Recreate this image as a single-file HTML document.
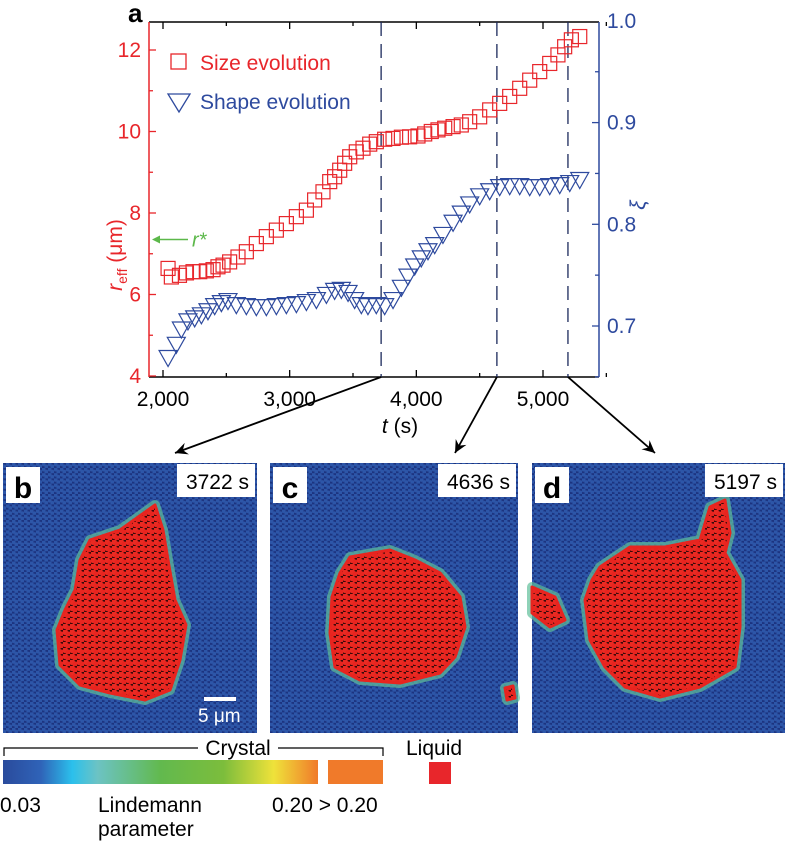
<!DOCTYPE html>
<html><head><meta charset="utf-8"><style>
body{margin:0;background:#fff;}
svg{display:block;font-family:"Liberation Sans",sans-serif;}
</style></head><body>
<svg id="fig" width="788" height="842" viewBox="0 0 788 842">
<defs>
<pattern id="hex" width="6" height="5.2" patternUnits="userSpaceOnUse">
<rect width="6" height="5.2" fill="#1c3480"/>
<circle cx="1.5" cy="1.3" r="2.1" fill="#2d56a8"/>
<circle cx="4.5" cy="3.9" r="2.1" fill="#2d56a8"/>
</pattern>
<pattern id="liq" width="7" height="6" patternUnits="userSpaceOnUse">
<rect width="7" height="6" fill="#3a0a0a"/>
<circle cx="2" cy="2" r="3" fill="#ea2a22"/>
<circle cx="5.5" cy="4.5" r="3" fill="#e8241f"/>
</pattern>
<linearGradient id="cbar" x1="0" x2="1">
<stop offset="0" stop-color="#2a4b9c"/><stop offset="0.12" stop-color="#2f63b8"/>
<stop offset="0.22" stop-color="#2bc0ec"/><stop offset="0.3" stop-color="#6cc3c4"/>
<stop offset="0.5" stop-color="#62b94e"/><stop offset="0.7" stop-color="#7cbd3c"/>
<stop offset="0.86" stop-color="#efe23a"/><stop offset="1" stop-color="#f07a2a"/>
</linearGradient>
</defs>
<g id="chart"></g>
<g id="panels"></g>
<g>
<polyline points="4,756 4,748 383,748 383,756" fill="none" stroke="#000" stroke-width="1.2"/>
<rect x="198" y="736" width="80" height="18" fill="#fff"/>
<text x="238" y="755" font-size="21" text-anchor="middle">Crystal</text>
<rect x="3" y="760" width="315" height="24" fill="url(#cbar)"/>
<rect x="328" y="760" width="55" height="24" fill="#f07a2a"/>
<rect x="429" y="762" width="22" height="22" fill="#e8262b"/>
<text x="406" y="755" font-size="21">Liquid</text>
<text x="0" y="812" font-size="21">0.03</text>
<text x="98" y="812" font-size="21">Lindemann</text>
<text x="98" y="836" font-size="21">parameter</text>
<text x="272" y="812" font-size="21">0.20 &gt; 0.20</text>
</g>
</svg>
<script>
const NS="http://www.w3.org/2000/svg";
const sizeT=[2040,2066,2130,2185,2237,2290,2342,2395,2434,2474,2526,2592,2658,2737,2816,2895,2974,3053,3132,3197,3263,3316,3355,3395,3434,3474,3526,3579,3632,3684,3750,3816,3882,3947,4013,4066,4118,4171,4224,4290,4355,4421,4500,4579,4658,4737,4816,4895,4974,5053,5118,5171,5224,5290];
const sizeR=[6.64,6.43,6.47,6.53,6.56,6.56,6.58,6.61,6.68,6.72,6.80,6.92,7.05,7.25,7.42,7.58,7.74,7.91,8.07,8.32,8.52,8.77,8.89,9.05,9.22,9.38,9.50,9.59,9.69,9.75,9.81,9.83,9.86,9.87,9.89,9.94,10.0,10.04,10.08,10.12,10.16,10.24,10.36,10.53,10.69,10.86,11.06,11.26,11.47,11.67,11.88,12.08,12.25,12.33];
const shapeT=[2040,2105,2145,2197,2250,2303,2355,2408,2461,2513,2579,2658,2737,2816,2895,2974,3053,3132,3211,3290,3355,3408,3461,3513,3566,3618,3684,3750,3816,3882,3934,3987,4039,4092,4145,4210,4290,4355,4421,4500,4579,4658,4737,4816,4895,4974,5053,5132,5211,5290];
const shapeXi=[0.670,0.683,0.698,0.706,0.709,0.712,0.716,0.721,0.724,0.726,0.722,0.721,0.720,0.720,0.721,0.722,0.723,0.725,0.727,0.732,0.736,0.737,0.734,0.727,0.722,0.721,0.722,0.721,0.727,0.739,0.750,0.760,0.768,0.775,0.781,0.791,0.803,0.812,0.821,0.829,0.834,0.838,0.839,0.839,0.838,0.838,0.839,0.840,0.842,0.845];
const xTicks=[2000,3000,4000,5000];
const xTickLabels=["2,000","3,000","4,000","5,000"];
const yLeftTicks=[4,6,8,10,12];
const yRightTicks=[0.7,0.8,0.9,1.0];
const snapTimes=[3722,4636,5197];
const snapLabels=["3722 s","4636 s","5197 s"];

const X=t=>163+(t-2000)*380/3000;
const YL=v=>376-(v-4)*40.75;
const YR=v=>326-(v-0.7)*1017;
const RED="#e8262b",BLUE="#2e4a9e";
const chart=document.getElementById('chart');
function mk(tag,attrs,parent){const e=document.createElementNS(NS,tag);for(const k in attrs)e.setAttribute(k,attrs[k]);(parent||chart).appendChild(e);return e;}
let t=mk('text',{x:128,y:22,'font-size':26,'font-weight':'bold'});t.textContent='a';


let e;
e=mk('line',{x1:149,y1:377,x2:599,y2:377,stroke:'#000','stroke-width':1.5});


e=mk('line',{x1:149,y1:22,x2:599,y2:22,stroke:'#000','stroke-width':1.5});


e=mk('line',{x1:149,y1:22,x2:149,y2:377,stroke:RED,'stroke-width':1.5});


e=mk('line',{x1:599,y1:22,x2:599,y2:377,stroke:BLUE,'stroke-width':1.5});


for(let v=2000;v<=5500;v+=500){const major=v%1000===0;const x=X(v);
 mk('line',{x1:x,y1:377,x2:x,y2:377-(major?7:4),stroke:'#000','stroke-width':1.3});
 mk('line',{x1:x,y1:22,x2:x,y2:22+(major?7:4),stroke:'#000','stroke-width':1.3});}
xTicks.forEach((v,i)=>{const tx=mk('text',{x:X(v),y:406,'font-size':21,'text-anchor':'middle'});tx.textContent=xTickLabels[i];
 
 });
for(let v=4;v<=12.5;v+=1){const y=YL(v);mk('line',{x1:149,y1:y,x2:149+(v%2===0?7:4),y2:y,stroke:RED,'stroke-width':1.3});}
yLeftTicks.forEach(v=>{const tx=mk('text',{x:141,y:YL(v)+7,'font-size':21,'text-anchor':'end',fill:RED});tx.textContent=String(v);
 
 });
for(let v=0.65;v<=1.0;v+=0.05){const y=YR(v);mk('line',{x1:599,y1:y,x2:599-(Math.abs(v*10-Math.round(v*10))<0.01?7:4),y2:y,stroke:BLUE,'stroke-width':1.3});}
yRightTicks.forEach(v=>{const tx=mk('text',{x:607,y:YR(v)+7,'font-size':21,fill:BLUE});tx.textContent=v.toFixed(1);
 
 });
t=mk('text',{x:0,y:0,'font-size':21,fill:RED,transform:'translate(122,255) rotate(-90)','text-anchor':'middle'});
t.innerHTML='<tspan font-style="italic">r</tspan><tspan font-size="14" dy="5">eff</tspan><tspan dy="-5"> (μm)</tspan>';


t=mk('text',{x:0,y:0,'font-size':21,fill:BLUE,transform:'translate(645,205) rotate(-90)','text-anchor':'middle','font-style':'italic'});t.textContent='ξ';


t=mk('text',{x:400,y:433,'font-size':21,'text-anchor':'middle'});t.innerHTML='<tspan font-style="italic">t</tspan> (s)';


const arrowEnds=[[175,453],[455,453],[655,453]];
snapTimes.forEach((s,i)=>{const x=X(s);
 const d=mk('line',{x1:x,y1:22,x2:x,y2:377,stroke:'#1b2a5c','stroke-width':1.3,'stroke-dasharray':'14,8'});
 
 
 const [ex,ey]=arrowEnds[i];
 const a=mk('line',{x1:x,y1:377,x2:ex,y2:ey,stroke:'#000','stroke-width':1.8});
 
 
 const ang=Math.atan2(ey-377,ex-x),L=14,w=0.45;
 const h=mk('polygon',{points:`${ex},${ey} ${ex-L*Math.cos(ang-w)},${ey-L*Math.sin(ang-w)} ${ex-L*0.6*Math.cos(ang)},${ey-L*0.6*Math.sin(ang)} ${ex-L*Math.cos(ang+w)},${ey-L*Math.sin(ang+w)}`,fill:'#000'});
 
 });
const gS=mk('g',{});


sizeT.forEach((tt,i)=>{const r=mk('rect',{x:X(tt)-7,y:YL(sizeR[i])-7,width:14,height:14,fill:'none',stroke:RED,'stroke-width':1.2},gS);
 
 });
const gT=mk('g',{});


shapeT.forEach((tt,i)=>{const x=X(tt),y=YR(shapeXi[i]);
 const p=mk('polygon',{points:`${x-9},${y-6} ${x+9},${y-6} ${x},${y+10}`,fill:'none',stroke:BLUE,'stroke-width':1.2},gT);
 
 });
const lg=mk('g',{});


mk('rect',{x:171,y:54,width:15,height:15,fill:'none',stroke:RED,'stroke-width':1.3},lg);
t=mk('text',{x:200,y:70,'font-size':21,fill:RED},lg);t.textContent='Size evolution';


mk('polygon',{points:'168,94 190,94 179,112',fill:'none',stroke:BLUE,'stroke-width':1.3},lg);
t=mk('text',{x:200,y:109,'font-size':21,fill:BLUE},lg);t.textContent='Shape evolution';


const rs=mk('g',{});


mk('line',{x1:154,y1:YL(7.35),x2:188,y2:YL(7.35),stroke:'#5cb84a','stroke-width':1.5},rs);
mk('polygon',{points:`152,${YL(7.35)} 160,${YL(7.35)-4} 160,${YL(7.35)+4}`,fill:'#5cb84a'},rs);
t=mk('text',{x:192,y:YL(7.35)+7,'font-size':20,fill:'#5cb84a','font-style':'italic'},rs);t.textContent='r*';

const P=document.getElementById('panels');
const panels=[
 {x:3,w:254,letter:'b',blobs:[[155,505,163,530,168,560,175,600,186,625,180,660,170,690,145,700,110,693,80,685,60,665,57,630,65,610,75,590,80,560,90,540,120,530]]},
 {x:270,w:248,letter:'c',blobs:[[350,557,390,550,415,560,440,573,460,597,465,627,455,657,440,673,400,683,360,680,335,667,330,633,332,597,340,573],[505,688,513,686,515,698,507,700]]},
 {x:532,w:253,letter:'d',blobs:[[600,567,630,547,665,547,700,540,710,507,725,500,730,533,725,553,740,580,740,627,735,667,700,687,660,697,625,687,605,667,590,640,585,600,592,580],[532,587,555,597,565,620,550,627,532,613]]}
];
panels.forEach((p,i)=>{const g=mk('g',{},P);
 
 
 mk('rect',{x:p.x,y:463,width:p.w,height:270,fill:'url(#hex)'},g);
 p.blobs.forEach(b=>{const pts=[];for(let k=0;k<b.length;k+=2)pts.push(b[k]+','+b[k+1]);
  mk('polygon',{points:pts.join(' '),fill:'none',stroke:'#5fbf9a','stroke-width':10,'stroke-linejoin':'round',opacity:0.7},g);
  mk('polygon',{points:pts.join(' '),fill:'url(#liq)',stroke:'#e8241f','stroke-width':3,'stroke-linejoin':'round'},g);});
 mk('rect',{x:p.x+3,y:467,width:34,height:36,fill:'#fff'},g);
 let l=mk('text',{x:p.x+20,y:498,'font-size':30,'font-weight':'bold','text-anchor':'middle'},g);l.textContent=p.letter;
 
 
 mk('rect',{x:p.x+p.w-80,y:464,width:78,height:33,fill:'#fff'},g);
 l=mk('text',{x:p.x+p.w-8,y:489,'font-size':21,'text-anchor':'end'},g);l.textContent=snapLabels[i];
 
 
});
const sb=mk('g',{},P);


mk('rect',{x:204,y:697,width:32,height:4,fill:'#fff'},sb);
t=mk('text',{x:198,y:722,'font-size':19,fill:'#fff'},sb);t.textContent='5 μm';
</script>
</body></html>
